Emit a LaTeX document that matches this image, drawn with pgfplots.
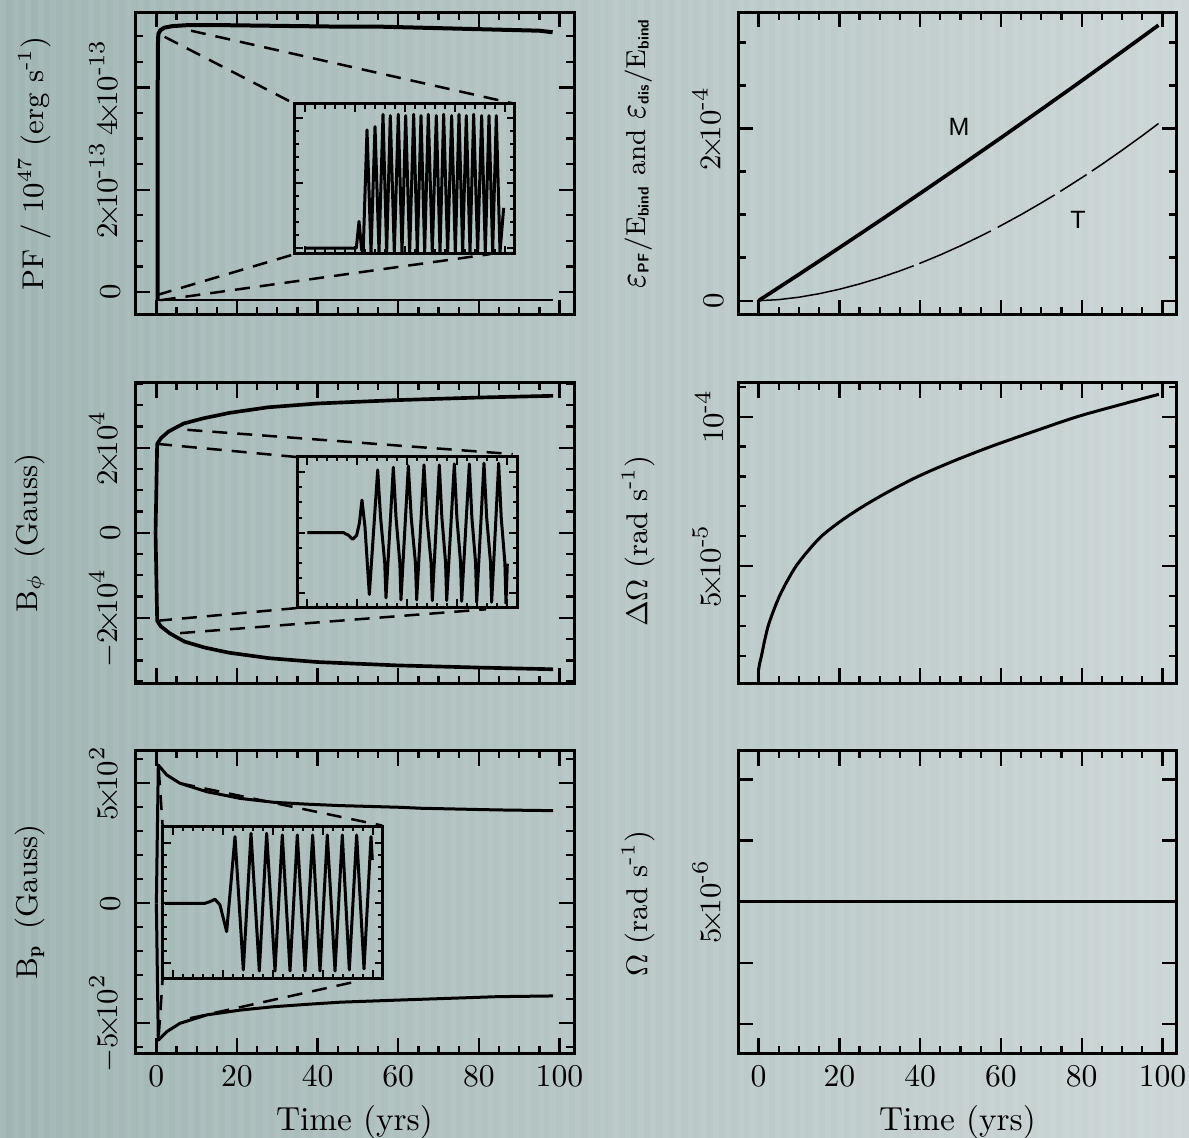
\documentclass[border=0pt]{standalone}
\usepackage{amsmath}
\usepackage{fontspec}
\usepackage{pgfplots}
\pgfplotsset{compat=1.18}
\newfontfamily\helv{Liberation Sans}
\definecolor{bgleft}{RGB}{160,181,179}
\definecolor{bgright}{RGB}{204,214,214}

\newcommand{\sub}[1]{\text{\sffamily\bfseries\fontsize{4.6}{5}\selectfont #1}}
\newcommand{\eps}{\scalebox{1.15}[1.45]{$\varepsilon$}}
\newcommand{\tm}{{\!\times\!}}
\newcommand{\mn}{\text{-}}

\pgfplotsset{
  panel/.style={
    scale only axis, anchor=south west, width=131.7pt,
    axis line style={line width=0.9pt},
    every tick/.style={black, line width=0.7pt},
    major tick length=4.5pt, minor tick length=2.3pt,
    xmin=-5.3, xmax=103.6,
    xtick={0,20,...,100},
    minor xtick={5,10,15,25,30,35,45,50,55,65,70,75,85,90,95},
    tick label style={font=\fontsize{9.5}{11}\selectfont},
    yticklabel style={xshift=-1pt, rotate=90, anchor=south},
    label style={font=\fontsize{9}{11}\selectfont},
    xlabel style={font=\fontsize{10}{12}\selectfont},
    ylabel style={at={(axis description cs:-0.228,0.5)}, anchor=center},
    xlabel style={at={(axis description cs:0.5,-0.227)}, anchor=center},
  },
  rpanel/.style={panel, width=131.5pt, xmin=-5, xmax=103.5},
  inset/.style={
    scale only axis, anchor=south west, width=66pt,
    axis line style={line width=0.9pt},
    every tick/.style={black, line width=0.6pt},
    major tick length=2.4pt, minor tick length=1.4pt,
    xmin=-0.2, xmax=4.2, xtick={0,...,4}, minor x tick num=4,
    xticklabels={}, yticklabels={},
  },
  curve/.style={black, line width=0.9pt, line join=round},
  zoomline/.style={black, line width=0.75pt, dash pattern=on 4.5pt off 3pt},
}

\begin{document}
\begin{tikzpicture}
\useasboundingbox (0,0) rectangle (356.7pt,341.4pt);
\shade[left color=bgleft, right color=bgright] (0,0) rectangle (356.7pt,341.4pt);
\foreach \i in {0,...,94} {
  \fill[white, opacity=0.06] (\i*3.75pt,0) rectangle ++(1.9pt,341.4pt);
}

% ---------------- top left: Poynting flux
\begin{axis}[panel, at={(40.5pt,246.9pt)}, height=90.8pt,
  ymin=-0.45, ymax=5.47,
  ytick={0,2,4}, minor ytick={0.5,1,1.5,2.5,3,3.5,4.5,5},
  yticklabels={$0$, $2\tm10^{\mn13}$, $4\tm10^{\mn13}$},
  xticklabels={},
  ylabel style={at={(axis description cs:-0.228,0.5)}},
  ylabel={PF / 10$^{47}$ (erg s$^{\mn1}$)}]
\addplot[curve, line width=1.2pt] coordinates {
  (0.3,-0.16) (0.35,4.8) (0.5,5.05) (1.0,5.12) (2,5.17) (4,5.2) (8,5.22)
  (15,5.22) (25,5.21) (35,5.2) (45,5.19) (55,5.19) (65,5.17) (75,5.15)
  (85,5.13) (95,5.11) (98.3,5.08) };
\addplot[curve, line width=0.7pt] coordinates { (0.3,-0.16) (98.3,-0.16) };
\addplot[zoomline] coordinates { (2.04,4.99) (34.3,3.68) };
\addplot[zoomline] coordinates { (8.6,5.11) (88.9,3.68) };
\addplot[zoomline] coordinates { (0.16,-0.06) (34.3,0.74) };
\addplot[zoomline] coordinates { (1.07,-0.16) (82.8,0.74) };
\end{axis}

\begin{axis}[inset, at={(88.4pt,265.2pt)}, height=45pt,
  ymin=-0.045, ymax=1.11, ytick={0,0.5,1}, minor y tick num=4]
\addplot[curve] coordinates {
  (0,0) (0.967,0) (1.033,0) (1.087,0.205) (1.14,-0.013) (1.17,-0.03)
  (1.247,0.91) (1.327,-0.03) (1.407,0.936) (1.487,-0.03) (1.567,1.03)
  (1.640,-0.03) (1.713,1.02) (1.793,-0.03) (1.873,1.03) (1.947,-0.03)
  (2.020,1.02) (2.100,-0.03) (2.180,1.03) (2.253,-0.03) (2.327,1.02)
  (2.400,-0.03) (2.473,1.03) (2.553,-0.03) (2.633,1.02) (2.707,-0.03)
  (2.780,1.03) (2.860,-0.03) (2.940,1.02) (3.013,-0.03) (3.087,1.03)
  (3.160,-0.03) (3.233,1.02) (3.307,-0.03) (3.380,1.03) (3.460,-0.03)
  (3.540,1.02) (3.613,-0.03) (3.687,1.02) (3.760,-0.03) (3.833,1.02)
  (3.907,-0.03) (3.980,0.31) };
\end{axis}

% ---------------- middle left: B_phi
\begin{axis}[panel, at={(40.5pt,136.4pt)}, height=90.2pt,
  ymin=-3.54, ymax=3.53,
  ytick={-2,0,2}, minor ytick={-3.5,-3,-2.5,-1.5,-1,-0.5,0.5,1,1.5,2.5,3,3.5},
  yticklabels={$-2\tm10^{4}$, $0$, $2\tm10^{4}$},
  xticklabels={},
  ylabel style={at={(axis description cs:-0.24,0.5)}},
  ylabel={B$_{\phi}$\, (Gauss)}]
\addplot[curve, line width=1.1pt] coordinates {
  (-0.2,0) (0.2,2.09) (1.1,2.22) (3.0,2.38) (6.8,2.57) (11.6,2.69)
  (18.2,2.82) (27.7,2.95) (40,3.04) (60,3.12) (80,3.18) (98.4,3.22) };
\addplot[curve, line width=1.1pt] coordinates {
  (-0.2,0) (0.2,-2.07) (1.1,-2.2) (3.4,-2.37) (7,-2.56) (12,-2.70)
  (18,-2.82) (28,-2.95) (40,-3.04) (60,-3.12) (80,-3.17) (98.4,-3.21) };
\addplot[zoomline] coordinates { (0.16,2.09) (34.9,1.78) };
\addplot[zoomline] coordinates { (7.7,2.42) (88.4,1.85) };
\addplot[zoomline] coordinates { (0.16,-2.07) (34.9,-1.77) };
\addplot[zoomline] coordinates { (5.9,-2.36) (81.8,-1.80) };
\end{axis}

\begin{axis}[inset, at={(89.2pt,159.2pt)}, height=45.2pt,
  ymin=-1.24, ymax=1.26, ytick={-1,0,1}, minor y tick num=3]
\addplot[curve] coordinates {
  (0,0) (0.72,0) (0.82,-0.044) (0.907,-0.111) (0.987,-0.044) (1.04,0.15)
  (1.093,0.539) (1.153,0.094) (1.24,-1.028)
  (1.407,1.039) (1.465,0.25) (1.548,-0.5) (1.573,-1.083)
  (1.72,1.083) (1.774,0.25) (1.85,-0.5) (1.873,-1.117)
  (2.02,1.106) (2.078,0.25) (2.162,-0.5) (2.187,-1.117)
  (2.333,1.122) (2.391,0.25) (2.475,-0.5) (2.5,-1.128)
  (2.64,1.122) (2.691,0.25) (2.765,-0.5) (2.787,-1.128)
  (2.94,1.139) (2.991,0.25) (3.065,-0.5) (3.087,-1.139)
  (3.24,1.139) (3.291,0.25) (3.365,-0.5) (3.387,-1.156)
  (3.533,1.15) (3.587,0.25) (3.664,-0.5) (3.687,-1.156)
  (3.827,1.15) (3.878,0.25) (3.951,-0.5) (3.973,-1.172)
  (4.0,-0.517) };
\end{axis}

% ---------------- bottom left: B_p
\begin{axis}[panel, at={(40.5pt,25.4pt)}, height=90.8pt,
  ymin=-625, ymax=636,
  ytick={-500,0,500},
  minor ytick={-600,-400,-300,-200,-100,100,200,300,400,600},
  yticklabels={$-5\tm10^{2}$, $0$, $5\tm10^{2}$},
  xticklabels={0,20,40,60,80,100},
  ylabel style={at={(axis description cs:-0.24,0.5)}},
  ylabel={B$_{\mathbf{p}}$\, (Gauss)},
  xlabel={Time (yrs)}]
\addplot[curve] coordinates {
  (0,0) (0.48,576) (2.56,535) (5.86,500) (12.5,465) (20.8,437) (29,421)
  (37.3,413) (45.6,407) (60.4,400) (65.6,396) (84.6,389) (98.4,386) };
\addplot[curve] coordinates {
  (0,0) (0.48,-570) (2.56,-535) (5.86,-500) (12.5,-465) (20.8,-445)
  (29,-431) (37.3,-421) (45.6,-412) (60.4,-403) (84.6,-389) (98.4,-386) };
\addplot[zoomline] coordinates { (0.6,555) (1.57,319) };
\addplot[zoomline] coordinates { (5.86,500) (56.0,324) };
\addplot[zoomline] coordinates { (0.6,-549) (1.57,-312) };
\addplot[zoomline] coordinates { (8.35,-479) (49.3,-327) };
\end{axis}

\begin{axis}[inset, at={(48.8pt,47.9pt)}, height=45.5pt,
  ymin=-1.25, ymax=1.278, ytick={-1,0,1}, minor y tick num=4]
\addplot[curve] coordinates {
  (-0.153,0) (0.647,0) (0.747,0.028) (0.847,0.067) (0.947,-0.028)
  (1.013,-0.25) (1.08,-0.472)
  (1.247,1.111) (1.413,-1.111) (1.567,1.167) (1.733,-1.128)
  (1.88,1.167) (2.047,-1.128) (2.193,1.139) (2.347,-1.128)
  (2.493,1.139) (2.647,-1.128) (2.8,1.139) (2.947,-1.128)
  (3.093,1.139) (3.247,-1.128) (3.393,1.139) (3.533,-1.111)
  (3.68,1.139) (3.827,-1.094) (3.967,1.111) (3.993,0.722) };
\end{axis}

% ---------------- top right: energies
\begin{axis}[rpanel, at={(221.5pt,246.9pt)}, height=90.8pt,
  ymin=-0.166, ymax=3.35,
  ytick={0,2}, minor ytick={0.5,1,1.5,2.5,3},
  yticklabels={$0$, $2\tm10^{\mn4}$},
  xticklabels={},
  ylabel style={at={(axis description cs:-0.228,0.535)}, font=\fontsize{8.2}{10}\selectfont},
  ylabel={\eps$_{\sub{PF}}$/E$_{\sub{bind}}$ and \eps$_{\sub{dis}}$/E$_{\sub{bind}}$}]
\addplot[curve, line width=1.1pt] coordinates {
  (0,0) (10,0.305) (20,0.615) (30,0.928) (40,1.246) (50,1.567) (60,1.892)
  (70,2.222) (80,2.555) (90,2.893) (99,3.2) };
\addplot[black, line width=0.45pt] coordinates {
  (0,0) (5,0.0123) (10,0.0403) (15,0.081) (20,0.1326) (25,0.1944)
  (30,0.2655) (35,0.346) (38.4,0.4057) };
\addplot[black, line width=0.45pt] coordinates {
  (39.8,0.4313) (45,0.532) (50,0.6375) (55,0.751) (57.5,0.8104) };
\addplot[black, line width=0.45pt] coordinates {
  (59.2,0.852) (65,1.0) (70,1.136) (73.3,1.229) };
\addplot[black, line width=0.45pt] coordinates {
  (74.7,1.2694) (80,1.428) (81.2,1.465) };
\addplot[black, line width=0.45pt] coordinates {
  (82.5,1.5054) (85,1.584) (90,1.748) (95,1.917) (99,2.058) };
\node[font=\helv\fontsize{7.5}{9}\selectfont] at (axis cs:49.6,2.02) {M};
\node[font=\helv\fontsize{7.5}{9}\selectfont] at (axis cs:79.1,0.937) {T};
\end{axis}

% ---------------- middle right: Delta Omega
\begin{axis}[rpanel, at={(221.5pt,136.4pt)}, height=90.2pt,
  ymin=1.075, ymax=11.14,
  ytick={5,10}, minor ytick={2,3,4,6,7,8,9,11},
  yticklabels={$5\tm10^{\mn5}$, $10^{\mn4}$},
  xticklabels={},
  ylabel style={at={(axis description cs:-0.228,0.473)}},
  ylabel={$\Delta\Omega$ (rad s$^{\mn1}$)}]
\addplot[curve, smooth] coordinates {
  (0,1.52) (0.3,1.75) (0.74,2.0) (1.5,2.5) (2.4,3.0) (3.7,3.5) (5.2,4.0)
  (7.1,4.5) (9.3,5.0) (12.2,5.5) (15.6,6.0) (20.3,6.5) (25.9,7.0)
  (32.3,7.5) (39.5,8.0) (48.0,8.5) (57.5,9.0) (68,9.5) (78.9,10.0)
  (89.5,10.4) (99.1,10.75) };
\end{axis}

% ---------------- bottom right: Omega
\begin{axis}[rpanel, at={(221.5pt,25.4pt)}, height=90.8pt,
  ymin=2.52, ymax=7.47,
  ytick={3,4,5,6,7},
  yticklabels={,,$5\tm10^{\mn6}$,,},
  xticklabels={0,20,40,60,80,100},
  ylabel style={at={(axis description cs:-0.228,0.494)}},
  ylabel={$\Omega$ (rad s$^{\mn1}$)},
  xlabel={Time (yrs)}]
\addplot[black, line width=0.8pt] coordinates { (-5,5) (103.5,5) };
\end{axis}
\end{tikzpicture}
\end{document}
